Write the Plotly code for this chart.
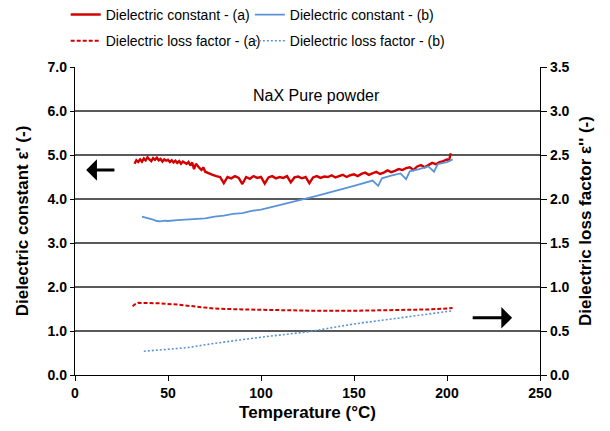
import plotly.graph_objects as go

# ---------------- data ----------------
T_const_a = [32, 33, 34, 35, 36, 37, 38, 39, 40, 41, 42, 43, 44, 45, 46, 47, 48, 49, 50, 51, 52, 53, 54, 55, 56, 57, 58, 59, 60,
             61, 62, 63, 64, 65, 66, 67, 68, 69, 70, 72, 74, 76, 78, 80, 82, 84, 86, 88, 90, 92, 94, 96, 98, 100, 102, 104, 106, 108, 110,
             112, 114, 116, 118, 120, 122, 124, 126, 128, 130, 132, 134, 136, 138, 140, 142, 144, 146, 148, 150,
             152, 154, 156, 158, 160, 162, 164, 166, 168, 170, 172, 174, 176, 178, 180, 182, 184, 186, 188, 190,
             192, 194, 196, 198, 200, 201, 202]
eps_const_a = [4.80, 4.88, 4.84, 4.90, 4.85, 4.92, 4.88, 4.95, 4.90, 4.86, 4.93, 4.89, 4.94, 4.88, 4.91, 4.85, 4.90, 4.87, 4.89, 4.84, 4.88, 4.83, 4.87, 4.82, 4.86, 4.80, 4.85, 4.82, 4.80,
               4.84, 4.76, 4.83, 4.68, 4.80, 4.74, 4.70, 4.66, 4.72, 4.62,
               4.58, 4.55, 4.52, 4.50, 4.36, 4.50, 4.47, 4.52, 4.48, 4.34, 4.50, 4.46, 4.52, 4.48, 4.50, 4.35, 4.49, 4.52, 4.47, 4.50,
               4.48, 4.52, 4.38, 4.49, 4.51, 4.47, 4.50, 4.36, 4.49, 4.52, 4.48, 4.51, 4.50, 4.54, 4.49, 4.52, 4.55, 4.50, 4.54, 4.56,
               4.52, 4.57, 4.60, 4.55, 4.58, 4.62, 4.57, 4.60, 4.65, 4.61, 4.64, 4.68, 4.66, 4.70, 4.72, 4.66, 4.74, 4.77, 4.72, 4.78,
               4.82, 4.79, 4.84, 4.86, 4.90, 4.86, 5.04]

T_const_b = [36, 38, 40, 42, 44, 46, 48, 50, 55, 60, 65, 70, 75, 80, 85, 90, 95, 100, 105, 110,
             115, 120, 125, 130, 135, 140, 145, 150, 155, 160, 163, 165, 170, 175, 178, 180, 185, 190, 193, 195,
             198, 200, 203]
eps_const_b = [3.60, 3.58, 3.55, 3.53, 3.50, 3.49, 3.51, 3.50, 3.52, 3.53, 3.55, 3.56, 3.60, 3.62, 3.66, 3.68, 3.73, 3.76, 3.81, 3.86,
               3.91, 3.96, 4.02, 4.07, 4.13, 4.18, 4.24, 4.30, 4.36, 4.42, 4.30, 4.47, 4.53, 4.58, 4.45, 4.63, 4.68, 4.74, 4.62, 4.79,
               4.82, 4.84, 4.90]

T_loss_a = [31, 32, 34, 38, 45, 55, 65, 75, 90, 110, 130, 150, 170, 190, 203]
eps_loss_a = [0.78, 0.80, 0.82, 0.82, 0.815, 0.80, 0.78, 0.755, 0.745, 0.735, 0.73, 0.73, 0.735, 0.745, 0.76]

T_loss_b = [37, 50, 60, 75, 100, 125, 150, 175, 200, 203]
eps_loss_b = [0.27, 0.29, 0.31, 0.36, 0.43, 0.49, 0.58, 0.65, 0.72, 0.73]

y_left_ticks = [0, 1, 2, 3, 4, 5, 6, 7]
y_right_ticks = [0, 0.5, 1.0, 1.5, 2.0, 2.5, 3.0, 3.5]
x_ticks = [0, 50, 100, 150, 200, 250]
grid_values = [1, 2, 3, 4, 5, 6]

RED = "#d40000"
BLUE = "#5b93d9"
FONT = "Liberation Sans, Arial, sans-serif"

fig = go.Figure()
fig.add_trace(go.Scatter(x=T_const_a, y=eps_const_a, mode="lines", name="Dielectric constant - (a)",
                         line=dict(color=RED, width=2.4), legend="legend", showlegend=True))
fig.add_trace(go.Scatter(x=T_const_b, y=eps_const_b, mode="lines", name="Dielectric constant - (b)",
                         line=dict(color=BLUE, width=1.8), legend="legend2", showlegend=True))
fig.add_trace(go.Scatter(x=T_loss_a, y=eps_loss_a, mode="lines", name="Dielectric loss factor - (a)",
                         line=dict(color=RED, width=2, dash="4px,2px"), yaxis="y2", legend="legend3", showlegend=True))
fig.add_trace(go.Scatter(x=T_loss_b, y=eps_loss_b, mode="lines", name="Dielectric loss factor - (b)",
                         line=dict(color=BLUE, width=1.6, dash="2px,2px"), yaxis="y2", legend="legend4", showlegend=True))

shapes = [dict(type="line", xref="paper", x0=0, x1=1, yref="y", y0=g, y1=g,
               line=dict(color="#222222", width=1.5), layer="below") for g in grid_values]

legend_common = dict(orientation="h", xanchor="left", yanchor="middle",
                     itemwidth=30, bgcolor="rgba(0,0,0,0)",
                     font=dict(family=FONT, size=14, color="black"), tracegroupgap=0)

COL1, COL2 = -0.02, 0.376
ROW1, ROW2 = 1.169, 1.084

fig.update_layout(
    width=610, height=431,
    showlegend=True,
    margin=dict(l=75, r=70, t=67, b=56, autoexpand=False),
    paper_bgcolor="white", plot_bgcolor="white",
    font=dict(family=FONT, color="black"),
    shapes=shapes,
    legend=dict(x=COL1, y=ROW1, visible=True, **legend_common),
    legend2=dict(x=COL2, y=ROW1, **legend_common),
    legend3=dict(x=COL1, y=ROW2, **legend_common),
    legend4=dict(x=COL2, y=ROW2, **legend_common),
    xaxis=dict(range=[0, 250], tickvals=x_ticks, showgrid=False, zeroline=False,
               showline=True, linecolor="black", linewidth=1.3,
               ticks="outside", ticklen=5, tickcolor="black",
               tickfont=dict(family=FONT, size=14, weight="bold"),
               title=dict(text="Temperature (°C)", font=dict(family=FONT, size=17, weight="bold"), standoff=6)),
    yaxis=dict(range=[0, 7], tickvals=y_left_ticks, tickformat=".1f", showgrid=False, zeroline=False,
               showline=True, linecolor="black", linewidth=1.3,
               ticks="outside", ticklen=4, tickcolor="black",
               tickfont=dict(family=FONT, size=14, weight="bold"),
               title=dict(text="Dielectric constant ε' (-)", font=dict(family=FONT, size=17, weight="bold"), standoff=14)),
    yaxis2=dict(range=[0, 3.5], tickvals=y_right_ticks, tickformat=".1f", overlaying="y", side="right",
                showgrid=False, zeroline=False, showline=True, linecolor="black", linewidth=1.3,
                ticks="outside", ticklen=6, tickcolor="black",
                tickfont=dict(family=FONT, size=14, weight="bold"),
                title=dict(text="Dielectric loss factor ε'' (-)", font=dict(family=FONT, size=17, weight="bold"), standoff=10)),
    annotations=[
        dict(x=130, y=6.35, xref="x", yref="y", text="NaX Pure powder", showarrow=False,
             font=dict(family=FONT, size=16, color="black")),
        dict(x=6, y=4.66, xref="x", yref="y", ax=22, ay=4.66, axref="x", ayref="y", text="",
             showarrow=True, arrowhead=1, arrowsize=1.2, arrowwidth=3, arrowcolor="black"),
        dict(x=235, y=0.65, xref="x", yref="y2", ax=213, ay=0.65, axref="x", ayref="y2", text="",
             showarrow=True, arrowhead=1, arrowsize=1.2, arrowwidth=3, arrowcolor="black"),
    ],
)

fig.write_html("out.html")
